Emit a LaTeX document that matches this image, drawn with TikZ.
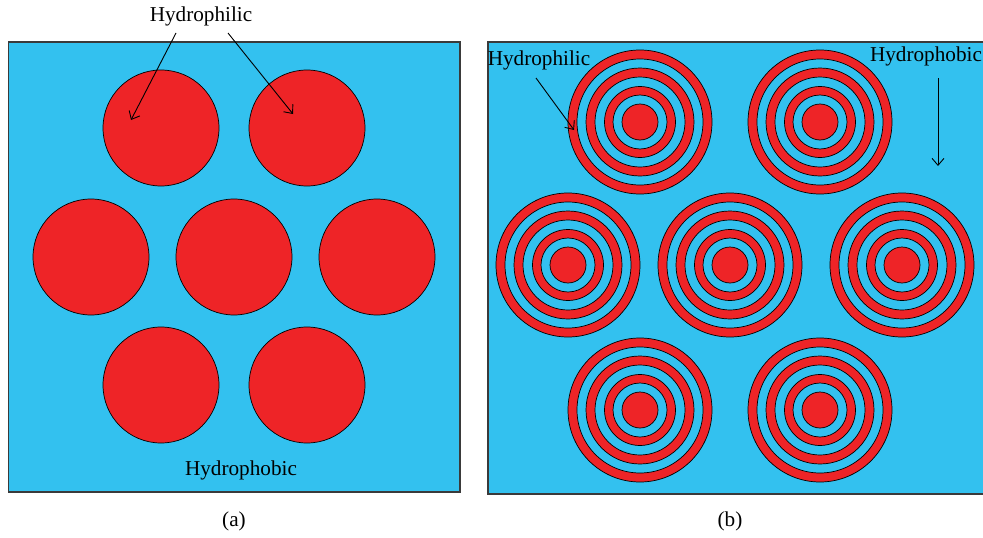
\documentclass[tikz,border=0pt]{standalone}
\usepackage{fontspec}
\setmainfont{Liberation Serif}
\usetikzlibrary{arrows.meta}
\definecolor{hphob}{HTML}{33C1EF}
\definecolor{hphil}{HTML}{EE2427}
\definecolor{frame}{HTML}{3A3A3A}
\tikzset{
  panel/.style={fill=hphob, draw=frame, line width=1.3pt},
  dot/.style={circle, fill=hphil, draw=black, line width=0.7pt, minimum size=116pt, inner sep=0pt},
  lbl/.style={font=\fontsize{21.2}{23}\selectfont, inner sep=0pt},
  captext/.style={font=\fontsize{21.2}{23}\selectfont, inner sep=0pt},
  ptr/.style={line width=0.9pt, -{Straight Barb[length=7pt,width=12pt]}},
}
\newcommand{\rings}[2]{%
  \foreach \r/\c in {72/hphil,63/hphob,54/hphil,45/hphob,35.5/hphil,27/hphob,18/hphil}{
    \fill[\c, draw=black, line width=0.7pt] (#1) circle (\r);
  }
  \coordinate (#2) at (#1);
}
\begin{document}
\begin{tikzpicture}[x=1pt,y=-1pt]
\useasboundingbox (0,0) rectangle (983,538);
% panel (a)
\draw[panel] (8.5,42) rectangle (460,492);
\node[dot] (a1) at (161,128) {};
\node[dot] (a2) at (307,128) {};
\node[dot] (a3) at (91,257) {};
\node[dot] (a4) at (234,257) {};
\node[dot] (a5) at (377,257) {};
\node[dot] (a6) at (161,385) {};
\node[dot] (a7) at (307,385) {};
\node[lbl] (philA) at (201,16) {Hydrophilic};
\node[lbl] (phobA) at (241,470) {Hydrophobic};
\coordinate (pa1) at (131,120);
\coordinate (pa2) at (293,114);
\draw[ptr] (176,33) -- (pa1);
\draw[ptr] (228,33) -- (pa2);
\node[captext] (capa) at (234,521) {(a)};
% panel (b)
\draw[panel] (488,42) rectangle (990,494);
\rings{640,122}{b1}
\rings{820,122}{b2}
\rings{568,265}{b3}
\rings{730,265}{b4}
\rings{902,265}{b5}
\rings{640,410}{b6}
\rings{820,410}{b7}
\node[lbl] (philB) at (539,60) {Hydrophilic};
\node[lbl] (phobB) at (926,56) {Hydrophobic};
\coordinate (pb1) at (574,130);
\coordinate (pb2) at (938,166);
\draw[ptr] (536,78) -- (pb1);
\draw[ptr] (938,78) -- (pb2);
\node[captext] (capb) at (730,521) {(b)};
\end{tikzpicture}
\end{document}
